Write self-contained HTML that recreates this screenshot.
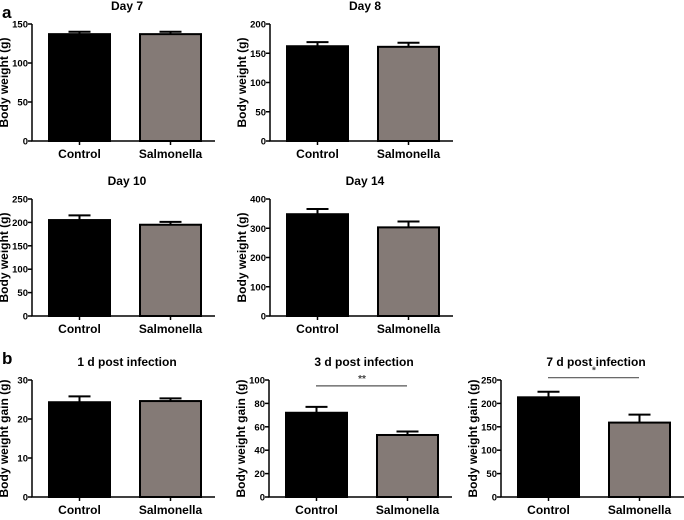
<!DOCTYPE html>
<html><head><meta charset="utf-8"><style>
body{margin:0;background:#fff;}
svg text{font-family:"Liberation Sans",Arial,sans-serif;font-weight:bold;}
</style></head><body>
<svg id="c" width="684" height="515">
<text x="2" y="18" font-size="17">a</text>
<text x="2" y="364" font-size="17">b</text>
</svg>
<script>
const titles=["Day 7","Day 8","Day 10","Day 14","1 d post infection","3 d post infection","7 d post infection"];
const categories=["Control","Salmonella"];
const controlMeans=[137,162,205,348,24.3,72,213];
const controlErr=[3,7,10,18,1.5,5,12];
const salmMeans=[137,161,195,303,24.6,53,159];
const salmErr=[3,7,6,20,0.7,3,17];
const yMax=[150,200,250,400,30,100,250];
const yStep=[50,50,50,100,10,20,50];
const sigLabels=["","","","","","**","*"];
const yTitles=["Body weight (g)","Body weight (g)","Body weight (g)","Body weight (g)","Body weight gain (g)","Body weight gain (g)","Body weight gain (g)"];
const layout=[[32,24,141],[270,24,141],[32,199,316],[270,199,316],[32,380,497],[269,380,497],[501,380,497]];
const NS="http://www.w3.org/2000/svg";
const svg=document.getElementById('c');
function mk(t,a,p){const e=document.createElementNS(NS,t);for(const k in a)e.setAttribute(k,a[k]);(p||svg).appendChild(e);return e;}
titles.forEach((title,i)=>{
  const [ax,top,bot]=layout[i];
  const g=mk('g',{});
  
  
  const y=v=>bot-(v/yMax[i])*(bot-top);
  const bx=[ax+17,ax+108], bw=61;
  const t=mk('text',{x:ax+95,y:top-14,'font-size':12,'text-anchor':'middle'},g);t.textContent=title;
  
  const yt=mk('text',{transform:`translate(${ax-24},${(top+bot)/2}) rotate(-90)`,'font-size':12,'text-anchor':'middle'},g);yt.textContent=yTitles[i];
  
  const means=[controlMeans[i],salmMeans[i]],errs=[controlErr[i],salmErr[i]],fills=["#000","#847a76"];
  means.forEach((m,j)=>{
    const r=mk('rect',{x:bx[j],y:y(m),width:bw,height:bot-y(m),fill:fills[j],stroke:'#000','stroke-width':2},g);
    
    const cx=bx[j]+bw/2;
    const e=mk('path',{d:`M${cx} ${y(m)}V${y(m+errs[j])}M${cx-11} ${y(m+errs[j])}H${cx+11}`,stroke:'#000','stroke-width':2,fill:'none'},g);
    
    mk('line',{x1:cx,x2:cx,y1:bot,y2:bot+4,stroke:'#000','stroke-width':1.5},g);
    const l=mk('text',{x:cx,y:bot+17,'font-size':12,'text-anchor':'middle'},g);l.textContent=categories[j];
    
  });
  const axl=mk('path',{d:`M${ax} ${top}V${bot}H${ax+183}`,stroke:'#000','stroke-width':1.5,fill:'none'},g);
  
  for(let v=0;v<=yMax[i];v+=yStep[i]){
    mk('line',{x1:ax-4,x2:ax,y1:y(v),y2:y(v),stroke:'#000','stroke-width':1.5},g);
    const tl=mk('text',{x:ax-4,y:y(v)+3.5,'font-size':9.5,'text-anchor':'end'},g);tl.textContent=v;
    
  }
  if(sigLabels[i]){
    const top2=Math.max(means[0]+errs[0],means[1]+errs[1]);
    const sy=y(top2)-(i==5?21:14);
    const sl=mk('line',{x1:bx[0]+30,x2:bx[1]+30,y1:sy,y2:sy,stroke:'#555','stroke-width':1.2},g);
    
    const st=mk('text',{x:bx[0]+76,y:sy-4,'font-size':10,'text-anchor':'middle',fill:'#444'},g);st.textContent=sigLabels[i];
    
  }
});
</script>
</body></html>
